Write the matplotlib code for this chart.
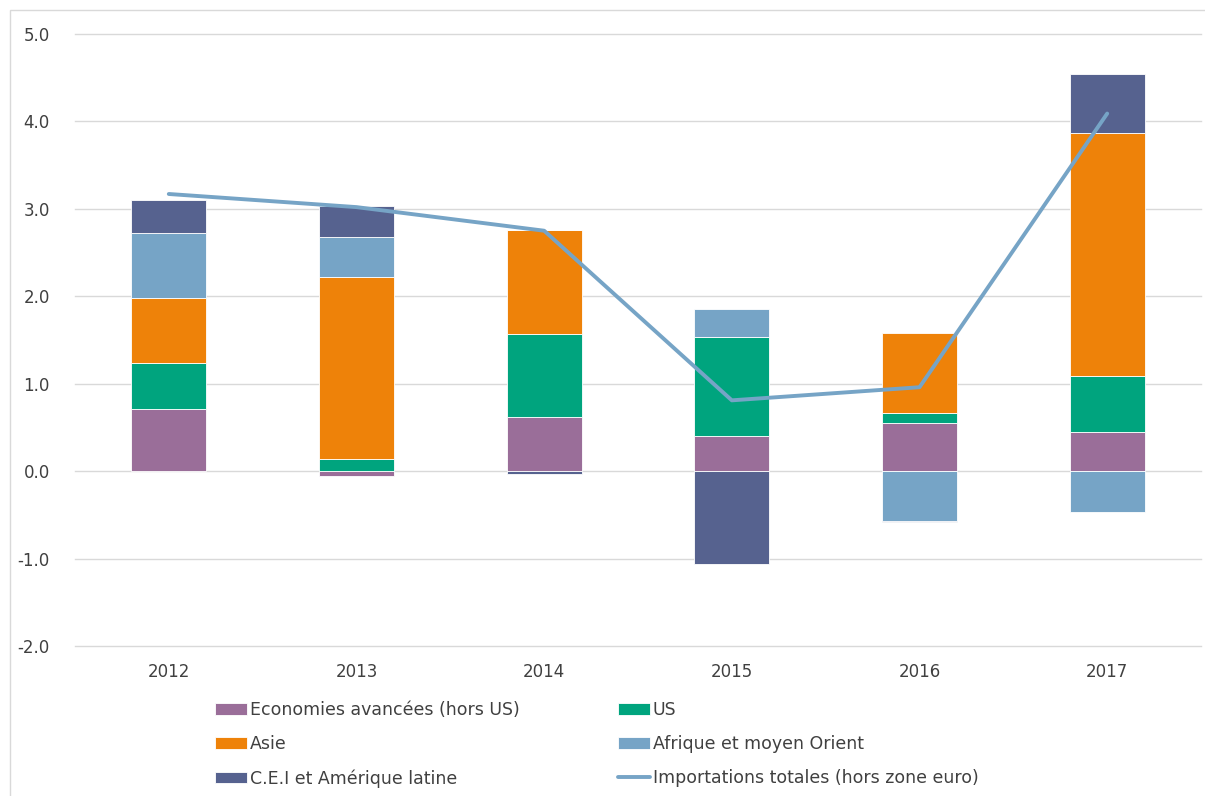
import matplotlib
matplotlib.use("Agg")
import matplotlib.pyplot as plt
import numpy as np
from matplotlib.patches import Rectangle

years = ["2012", "2013", "2014", "2015", "2016", "2017"]
econ_avancees = [0.71, -0.05, 0.62, 0.40, 0.55, 0.45]
us = [0.53, 0.14, 0.95, 1.13, 0.11, 0.64]
asie = [0.74, 2.08, 1.19, 0.00, 0.92, 2.78]
afrique_mo = [0.74, 0.46, 0.00, 0.32, -0.57, -0.47]
cei_amlat = [0.38, 0.35, -0.03, -1.06, -0.01, 0.67]
importations = [3.17, 3.02, 2.75, 0.81, 0.96, 4.09]

series = [
    ("Economies avancées (hors US)", econ_avancees, "#9A6E99"),
    ("US", us, "#00A47E"),
    ("Asie", asie, "#EE8209"),
    ("Afrique et moyen Orient", afrique_mo, "#76A4C6"),
    ("C.E.I et Amérique latine", cei_amlat, "#56628F"),
]
line_color = "#76A4C6"
text_color = "#404040"

plt.rcParams['font.family'] = ['DejaVu Sans']

fig = plt.figure(figsize=(12.05, 7.96), dpi=100)
ax = fig.add_axes([0.0622, 0.1884, 0.9345, 0.7689])

x = np.arange(len(years))
pos_base = np.zeros(len(years))
neg_base = np.zeros(len(years))
handles = {}
for name, vals, col in series:
    vals = np.array(vals)
    bottoms = np.where(vals >= 0, pos_base, neg_base)
    b = ax.bar(x, vals, width=0.4, bottom=bottoms, color=col,
               edgecolor="white", linewidth=0.6, zorder=2, label=name)
    handles[name] = b
    pos_base = pos_base + np.where(vals >= 0, vals, 0)
    neg_base = neg_base + np.where(vals < 0, vals, 0)

ln, = ax.plot(x, importations, color=line_color, linewidth=2.8, zorder=3,
              solid_capstyle="round", label="Importations totales (hors zone euro)")

ax.set_xlim(-0.5, 5.5)
ax.set_ylim(-2, 5)
ax.set_yticks(np.arange(-2, 5.01, 1))
ax.set_yticklabels([f"{v:.1f}" for v in np.arange(-2, 5.01, 1)])
ax.set_xticks(x)
ax.set_xticklabels(years)
ax.grid(axis="y", color="#D9D9D9", linewidth=1.0, zorder=0)
for gl in ax.get_ygridlines():
    gl.set_clip_on(False)
ax.set_axisbelow(True)
for s in ax.spines.values():
    s.set_visible(False)
ax.tick_params(axis="both", length=0, labelsize=12, colors=text_color)
ax.tick_params(axis="y", pad=18)
ax.tick_params(axis="x", pad=12)

order = ["Economies avancées (hors US)", "Asie", "C.E.I et Amérique latine",
         "US", "Afrique et moyen Orient"]
hl = [handles[n] for n in order] + [ln]
labels = order + ["Importations totales (hors zone euro)"]
leg = fig.legend(hl, labels, ncol=2, loc="upper left",
                 bbox_to_anchor=(0.1784, 0.119), frameon=False,
                 fontsize=12.5, handlelength=1.85, handleheight=0.65,
                 handletextpad=0.17, columnspacing=5.63, labelspacing=0.92,
                 borderaxespad=0, borderpad=0)
for t in leg.get_texts():
    t.set_color(text_color)

fig.patches.append(Rectangle((10 / 1205, -0.01), 1.0, 1 - 10 / 796 + 0.01,
                             transform=fig.transFigure, fill=False,
                             edgecolor="#D9D9D9", linewidth=1.0))

fig.savefig("out.png", dpi=100, facecolor="white")
